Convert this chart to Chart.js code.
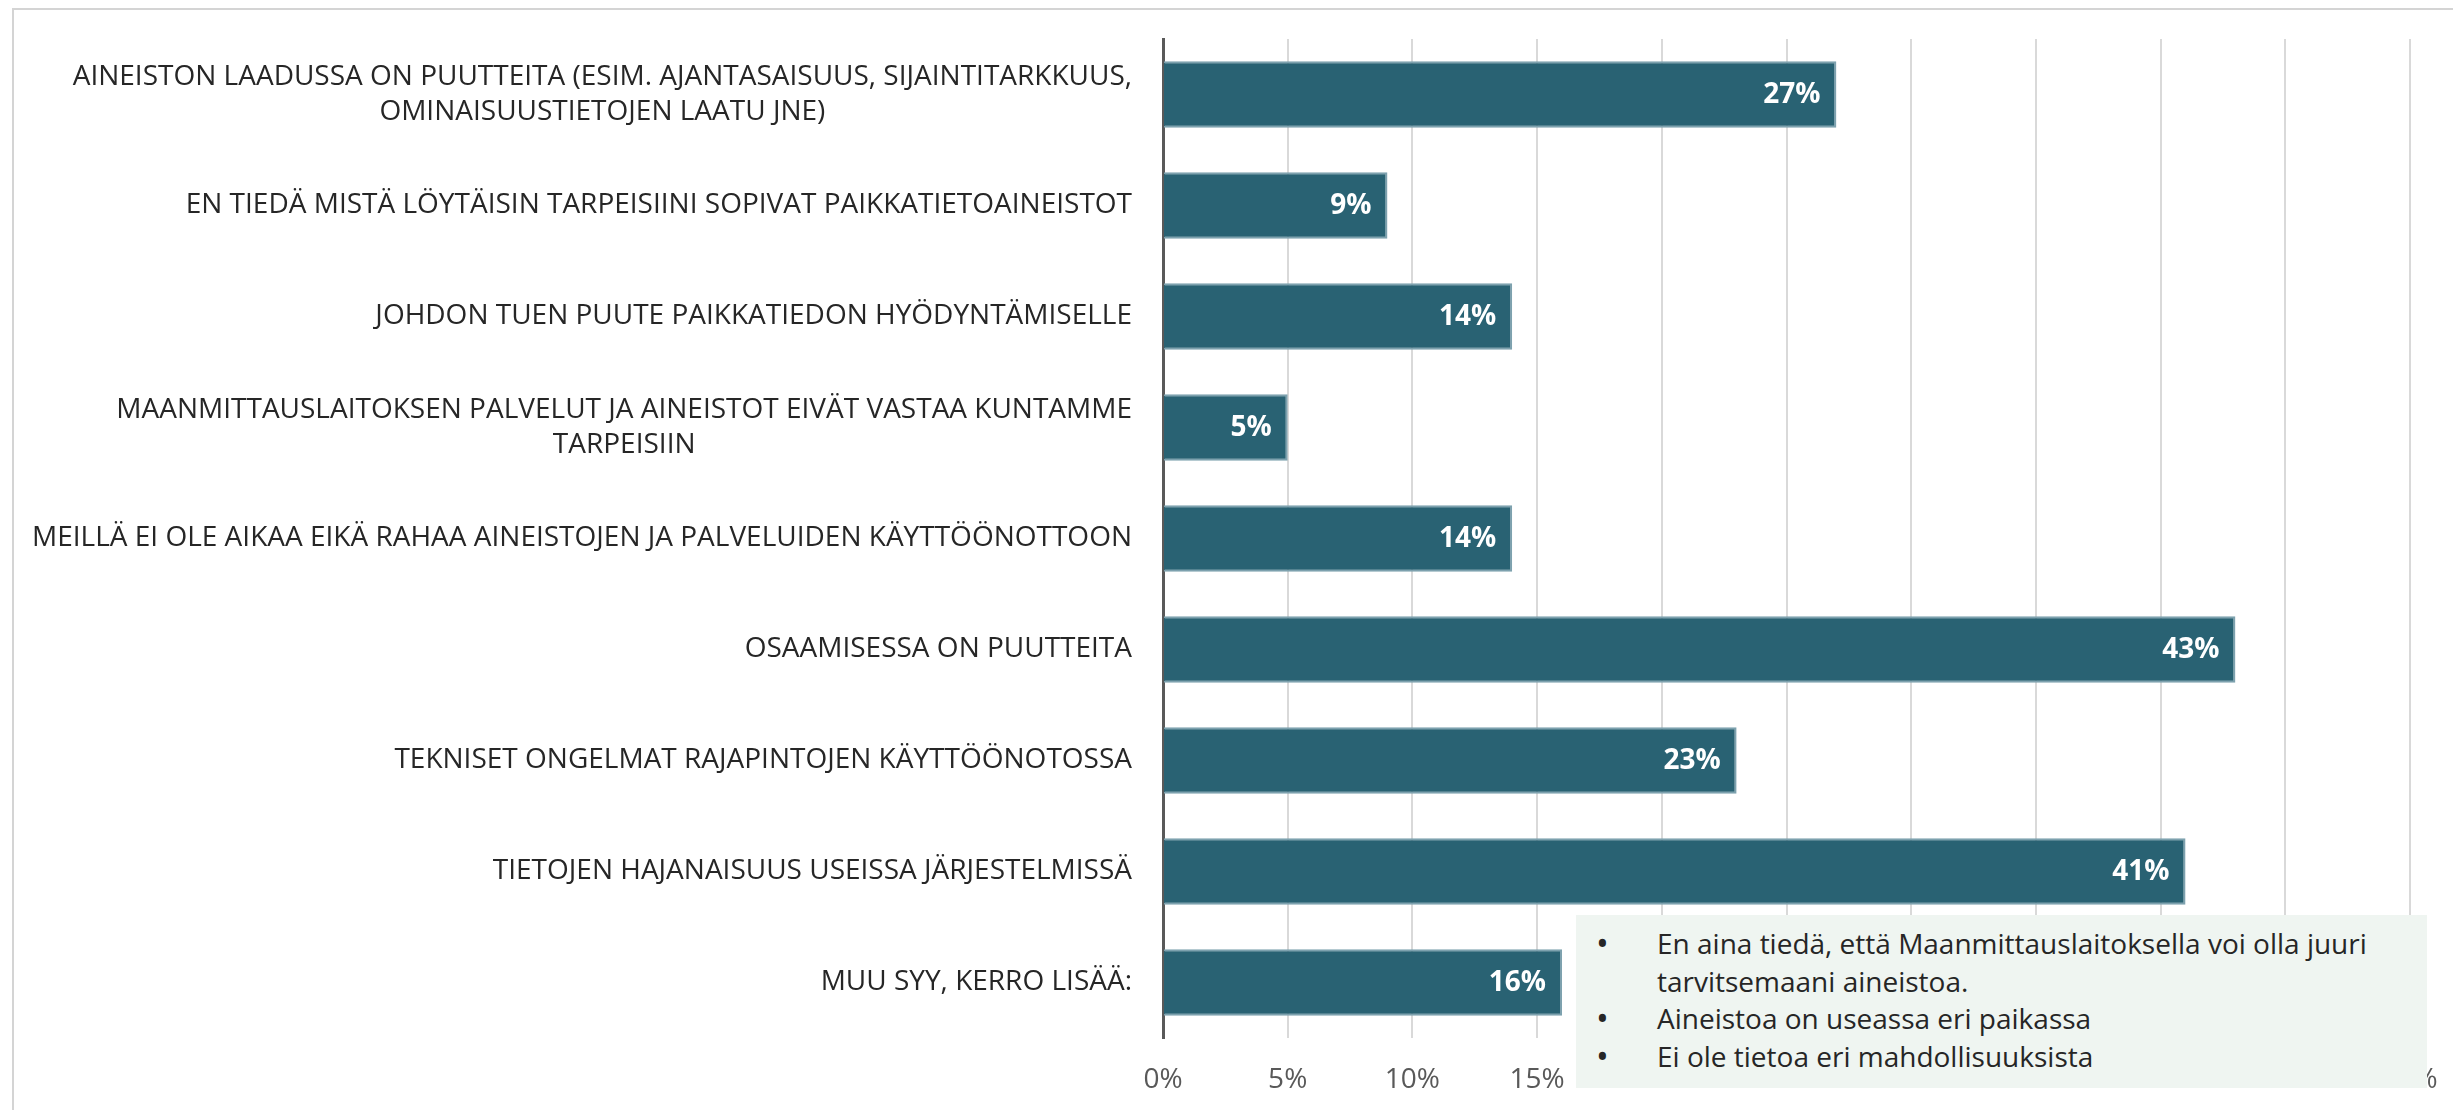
<!DOCTYPE html>
<html>
<head>
<meta charset="utf-8">
<script src="https://cdn.jsdelivr.net/npm/chart.js@4.4.1/dist/chart.umd.min.js"></script>
<style>
html,body{margin:0;padding:0;background:#fff;}
#wrap{position:relative;width:2453px;height:1110px;overflow:hidden;background:#fff;}
#frame{position:absolute;left:12px;top:8px;width:2600px;height:1300px;border-top:2px solid #D4D4D4;border-left:2px solid #D4D4D4;}
#c{position:absolute;left:0;top:0;}
#note{position:absolute;left:1576px;top:915px;width:851px;height:173px;background:#EFF5F1;
  font-family:'Open Sans';font-size:28px;color:#262626;box-sizing:border-box;padding-top:10px;padding-right:40px;}
.li{display:flex;line-height:37.5px;}
.b{flex:0 0 81px;box-sizing:border-box;padding-left:20px;font-size:34px;}
</style>
</head>
<body>
<div id="wrap">
  <div id="frame"></div>
  <canvas id="c" width="2453" height="1110"></canvas>
  <div id="note"></div>
</div>
<script>
// ---- data ----
const categories = [
  ["AINEISTON LAADUSSA ON PUUTTEITA (ESIM. AJANTASAISUUS, SIJAINTITARKKUUS,", "OMINAISUUSTIETOJEN LAATU JNE)"],
  ["EN TIEDÄ MISTÄ LÖYTÄISIN TARPEISIINI SOPIVAT PAIKKATIETOAINEISTOT"],
  ["JOHDON TUEN PUUTE PAIKKATIEDON HYÖDYNTÄMISELLE"],
  ["MAANMITTAUSLAITOKSEN PALVELUT JA AINEISTOT EIVÄT VASTAA KUNTAMME", "TARPEISIIN"],
  ["MEILLÄ EI OLE AIKAA EIKÄ RAHAA AINEISTOJEN JA PALVELUIDEN KÄYTTÖÖNOTTOON"],
  ["OSAAMISESSA ON PUUTTEITA"],
  ["TEKNISET ONGELMAT RAJAPINTOJEN KÄYTTÖÖNOTOSSA"],
  ["TIETOJEN HAJANAISUUS USEISSA JÄRJESTELMISSÄ"],
  ["MUU SYY, KERRO LISÄÄ:"]
];
const values = [27, 9, 14, 5, 14, 43, 23, 41, 16];
const valueLabels = ["27%", "9%", "14%", "5%", "14%", "43%", "23%", "41%", "16%"];
const xTickLabels = ["0%", "5%", "10%", "15%", "20%", "25%", "30%", "35%", "40%", "45%", "50%"];
const noteItems = [
  "En aina tiedä, että Maanmittauslaitoksella voi olla juuri tarvitsemaani aineistoa.",
  "Aineistoa on useassa eri paikassa",
  "Ei ole tietoa eri mahdollisuuksista"
];

// ---- note box ----
const note = document.getElementById('note');
noteItems.forEach(t => {
  const row = document.createElement('div');
  row.className = 'li';
  const b = document.createElement('span'); b.className = 'b'; b.textContent = '•';
  const s = document.createElement('span'); s.textContent = t;
  row.appendChild(b); row.appendChild(s);
  note.appendChild(row);
});

Chart.defaults.font.family = "'Open Sans'";

const catLabelPlugin = {
  id: 'catLabels',
  afterDraw(chart) {
    const ctx = chart.ctx, ys = chart.scales.y;
    ctx.save();
    ctx.font = '28px "Open Sans"';
    ctx.fillStyle = '#262626';
    ctx.textBaseline = 'middle';
    ctx.textAlign = 'center';
    const lh = 35;
    categories.forEach((lines, i) => {
      const yc = ys.getPixelForTick(i);
      const maxW = Math.max(...lines.map(l => ctx.measureText(l).width));
      const cx = ys.right - 31 - maxW / 2;
      lines.forEach((l, j) => {
        ctx.fillText(l, cx, yc + (j - (lines.length - 1) / 2) * lh);
      });
    });
    ctx.restore();
  }
};

const valueLabelPlugin = {
  id: 'valueLabels',
  afterDatasetsDraw(chart) {
    const ctx = chart.ctx;
    const meta = chart.getDatasetMeta(0);
    ctx.save();
    ctx.font = 'bold 28px "Open Sans"';
    ctx.fillStyle = '#ffffff';
    ctx.textAlign = 'right';
    ctx.textBaseline = 'middle';
    meta.data.forEach((bar, i) => {
      ctx.fillText(valueLabels[i], bar.x - 16, bar.y + 1);
    });
    ctx.restore();
  }
};

new Chart(document.getElementById('c'), {
  type: 'bar',
  data: {
    labels: categories.map(l => l.join(' ')),
    datasets: [{
      data: values,
      backgroundColor: '#296273',
      borderColor: '#7DA1AE',
      borderWidth: 2,
      barPercentage: 0.6,
      categoryPercentage: 1
    }]
  },
  options: {
    indexAxis: 'y',
    responsive: false,
    animation: false,
    layout: { padding: { top: 39, right: 43, left: 0, bottom: 0 } },
    plugins: { legend: { display: false }, tooltip: { enabled: false } },
    scales: {
      x: {
        min: 0, max: 50,
        ticks: { stepSize: 5, callback: (v, i) => xTickLabels[i], color: '#595959', font: { size: 28 }, padding: 25, maxRotation: 0 },
        grid: { color: '#D9D9D9', lineWidth: 2, drawTicks: false },
        border: { display: false },
        afterFit(s) { s.height = 72; s.paddingLeft = 0; s.paddingRight = 0; }
      },
      y: {
        ticks: { display: false },
        grid: { display: false, drawTicks: false },
        border: { display: true, color: '#595959', width: 3 },
        afterFit(s) { s.width = 1163; }
      }
    }
  },
  plugins: [catLabelPlugin, valueLabelPlugin]
});
</script>
</body>
</html>
